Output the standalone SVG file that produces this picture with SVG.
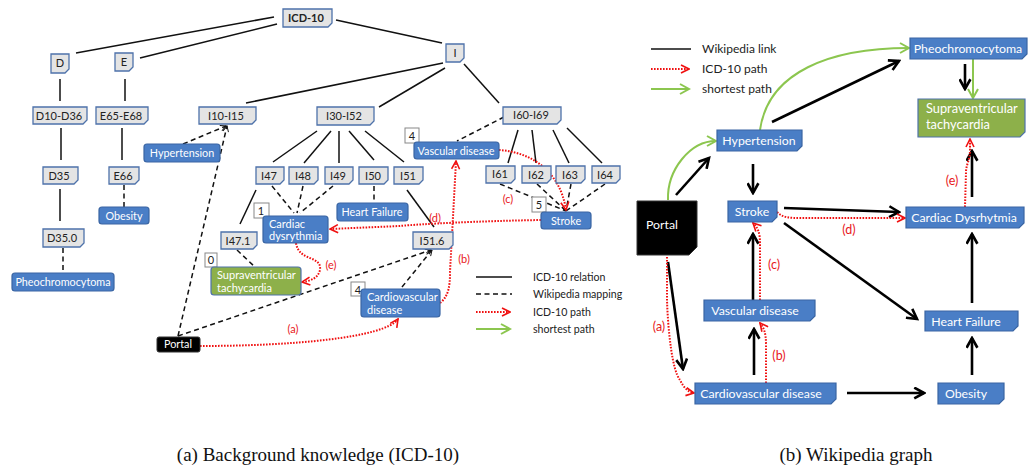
<svg xmlns="http://www.w3.org/2000/svg" width="1031" height="468" viewBox="0 0 1031 468">
<style>
.g{fill:#e4e4e4;stroke:#4e72aa;stroke-width:1.3}
.b{fill:#4a7ec6;stroke:#3a65a3;stroke-width:1.2}
.gr{fill:#8db04a;stroke:#4f72aa;stroke-width:1.2}
.bk{fill:#000;stroke:#333;stroke-width:1}
.nb{fill:#fff;stroke:#888;stroke-width:1}
.t{font-family:Lato,"Liberation Sans",sans-serif;font-size:11px;fill:#222;text-anchor:middle}
.tw{font-family:Lato,"Liberation Sans",sans-serif;font-size:10.8px;fill:#fff;text-anchor:middle}
.tl{font-family:Lato,"Liberation Sans",sans-serif;font-size:11px;fill:#fff}
.rt{font-family:Lato,"Liberation Sans",sans-serif;font-size:12.3px;fill:#fff;text-anchor:middle}
.rtl{font-family:Lato,"Liberation Sans",sans-serif;font-size:12.8px;fill:#fff}
.lg{font-family:Lato,"Liberation Sans",sans-serif;font-size:10.6px;fill:#222}
.lg2{font-family:Lato,"Liberation Sans",sans-serif;font-size:12px;fill:#222}
.lab{font-family:Lato,"Liberation Sans",sans-serif;font-size:11px;fill:#e8171b;text-anchor:middle}
.lab2{font-family:Lato,"Liberation Sans",sans-serif;font-size:12.5px;fill:#e8171b;text-anchor:middle}
.cap{font-family:"Liberation Serif",serif;font-size:19px;fill:#111;text-anchor:middle}
.s{stroke:#111;stroke-width:1.5;fill:none}
.d{stroke:#111;stroke-width:1.5;fill:none;stroke-dasharray:5 3.5}
.r{stroke:#f01010;stroke-width:2;fill:none;stroke-dasharray:1.6 1.4}
.w{stroke:#000;stroke-width:2.6;fill:none}
.gp{stroke:#8cc64f;stroke-width:2;fill:none}
</style>
<defs>
<marker id="ar" viewBox="0 0 10 10" refX="9" refY="5" markerWidth="10" markerHeight="10" markerUnits="userSpaceOnUse" orient="auto">
<path d="M1,1 L9,5 L1,9" fill="none" stroke="#f01010" stroke-width="1.6"/>
</marker>
<marker id="ak" viewBox="0 0 12 12" refX="10" refY="6" markerWidth="13" markerHeight="13" markerUnits="userSpaceOnUse" orient="auto">
<path d="M1,1 L10,6 L1,11" fill="none" stroke="#000" stroke-width="2.4"/>
</marker>
<marker id="ag" viewBox="0 0 12 12" refX="10" refY="6" markerWidth="12" markerHeight="12" markerUnits="userSpaceOnUse" orient="auto">
<path d="M1,1 L10,6 L1,11" fill="none" stroke="#8cc64f" stroke-width="2"/>
</marker>
<marker id="ad" viewBox="0 0 10 10" refX="9" refY="5" markerWidth="7" markerHeight="7" markerUnits="userSpaceOnUse" orient="auto">
<path d="M1,1 L9,5 L1,9" fill="none" stroke="#111" stroke-width="1.4"/>
</marker>
</defs>
<rect width="1031" height="468" fill="#fff"/>

<g id="connectors">
<!-- ICD-10 relations -->
<line class="s" x1="274" y1="17" x2="76" y2="53"/>
<line class="s" x1="277" y1="24" x2="140" y2="58"/>
<line class="s" x1="336" y1="20" x2="442" y2="43"/>
<line class="s" x1="60" y1="79" x2="60" y2="101"/>
<line class="s" x1="125" y1="79" x2="125" y2="101"/>
<line class="s" x1="61" y1="128" x2="61" y2="160"/>
<line class="s" x1="122" y1="128" x2="122" y2="160"/>
<line class="s" x1="443" y1="63" x2="246" y2="103"/>
<line class="s" x1="445" y1="68" x2="379" y2="107"/>
<line class="s" x1="464" y1="64" x2="499" y2="103"/>
<line class="s" x1="317" y1="131" x2="273" y2="162"/>
<line class="s" x1="331" y1="131" x2="304" y2="163"/>
<line class="s" x1="339" y1="131" x2="339" y2="163"/>
<line class="s" x1="349" y1="131" x2="374" y2="160"/>
<line class="s" x1="365" y1="131" x2="404" y2="162"/>
<line class="s" x1="518" y1="130" x2="508" y2="163"/>
<line class="s" x1="532" y1="130" x2="536" y2="163"/>
<line class="s" x1="553" y1="130" x2="569" y2="163"/>
<line class="s" x1="567" y1="128" x2="602" y2="163"/>
<line class="s" x1="60" y1="189" x2="60" y2="221"/>
<line class="s" x1="256" y1="190" x2="240" y2="224"/>
<line class="s" x1="407" y1="190" x2="434" y2="227"/>
<!-- Wikipedia mappings -->
<line class="d" x1="183" y1="144" x2="226" y2="126" marker-end="url(#ad)"/>
<line class="d" x1="178" y1="336" x2="227" y2="126" marker-end="url(#ad)"/>
<line class="d" x1="178" y1="336" x2="431" y2="250" marker-end="url(#ad)"/>
<line class="d" x1="402" y1="287" x2="432" y2="250" marker-end="url(#ad)"/>
<line class="d" x1="124" y1="185" x2="124" y2="207"/>
<line class="d" x1="63" y1="248" x2="63" y2="273"/>
<line class="d" x1="272" y1="186" x2="294" y2="213"/>
<line class="d" x1="303" y1="186" x2="297" y2="213"/>
<line class="d" x1="333" y1="186" x2="300" y2="213"/>
<line class="d" x1="374" y1="186" x2="374" y2="203"/>
<line class="d" x1="237" y1="250" x2="255" y2="267"/>
<line class="d" x1="504" y1="117" x2="457" y2="141"/>
<line class="d" x1="500" y1="184" x2="566" y2="211"/>
<line class="d" x1="537" y1="184" x2="566" y2="211"/>
<line class="d" x1="571" y1="184" x2="566" y2="211"/>
<line class="d" x1="605" y1="184" x2="566" y2="211"/>
<!-- ICD-10 paths (left) -->
<path class="r" d="M200,346 C290,346 385,338 398,319" marker-end="url(#ar)"/>
<path class="r" d="M440,303 C449,296 450,285 450,272 L456,161" marker-end="url(#ar)"/>
<path class="r" d="M499,150 C530,152 560,170 566,210" marker-end="url(#ar)"/>
<path class="r" d="M541,220 C480,221 420,224 400,226 L330,229" marker-end="url(#ar)"/>
<path class="r" d="M296,243 C299,262 322,255 320,270 C318,278 311,281 302,282" marker-end="url(#ar)"/>
<!-- legend left -->
<line class="s" x1="476" y1="277" x2="512" y2="277"/>
<line class="d" x1="476" y1="294" x2="512" y2="294"/>
<line class="r" x1="476" y1="312" x2="510" y2="312" marker-end="url(#ar)"/>
<line class="gp" x1="476" y1="329" x2="510" y2="329" marker-end="url(#ag)"/>

<!-- right: Wikipedia links -->
<line class="w" x1="676" y1="195" x2="709" y2="158" marker-end="url(#ak)"/>
<line class="w" x1="772" y1="122" x2="899" y2="61" marker-end="url(#ak)"/>
<line class="w" x1="753" y1="164" x2="753" y2="193" marker-end="url(#ak)"/>
<line class="w" x1="965" y1="64" x2="965" y2="89" marker-end="url(#ak)"/>
<line class="w" x1="784" y1="208" x2="899" y2="212" marker-end="url(#ak)"/>
<line class="w" x1="972" y1="197" x2="972" y2="151" marker-end="url(#ak)"/>
<line class="w" x1="784" y1="223" x2="917" y2="319" marker-end="url(#ak)"/>
<line class="w" x1="668" y1="262" x2="683" y2="369" marker-end="url(#ak)"/>
<line class="w" x1="754" y1="375" x2="754" y2="329" marker-end="url(#ak)"/>
<line class="w" x1="753" y1="300" x2="753" y2="234" marker-end="url(#ak)"/>
<line class="w" x1="847" y1="393" x2="924" y2="393" marker-end="url(#ak)"/>
<line class="w" x1="972" y1="375" x2="972" y2="338" marker-end="url(#ak)"/>
<line class="w" x1="972" y1="303" x2="972" y2="234" marker-end="url(#ak)"/>
<!-- right: shortest path -->
<path class="gp" d="M668,200 C667,170 690,141 716,141" marker-end="url(#ag)"/>
<path class="gp" d="M760,130 C768,72 830,48 909,48" marker-end="url(#ag)"/>
<path class="gp" d="M973,59 L973,98" marker-end="url(#ag)"/>
<!-- right: ICD-10 paths -->
<path class="r" d="M777,212 C783,218 790,218 800,218 L905,218" marker-end="url(#ar)"/>
<path class="r" d="M965,207 L966,172 C966,165 970,160 970,150 L970,139" marker-end="url(#ar)"/>
<path class="r" d="M667,257 L667,300 C668,330 672,370 680,380 C684,388 688,392 694,393" marker-end="url(#ar)"/>
<path class="r" d="M766,383 L766,345 C766,333 764,328 760,323" marker-end="url(#ar)"/>
<path class="r" d="M760,300 L760,245 C760,232 758,228 753,223" marker-end="url(#ar)"/>
<!-- legend right -->
<line class="s" x1="651" y1="49" x2="691" y2="49"/>
<line class="r" x1="651" y1="69" x2="689" y2="69" marker-end="url(#ar)"/>
<line class="gp" x1="651" y1="89" x2="689" y2="89" marker-end="url(#ag)"/>
</g>

<!-- Left panel gray nodes -->
<g id="n-icd10"><path class="g" d="M283,9 h49 v14 l-4,4 h-45 z"/><text class="t" x="306" y="22" font-weight="bold">ICD-10</text></g>
<g id="n-D"><path class="g" d="M51,54 h18 v15 l-4,4 h-14 z"/><text class="t" x="60" y="67">D</text></g>
<g id="n-E"><path class="g" d="M115,53 h18 v14 l-4,4 h-14 z"/><text class="t" x="124" y="66">E</text></g>
<g id="n-I"><path class="g" d="M446,44 h18 v14 l-4,4 h-14 z"/><text class="t" x="455" y="57">I</text></g>
<g id="n-D10-D36"><path class="g" d="M33,107 h54 v13 l-4,4 h-50 z"/><text class="t" x="59" y="120">D10-D36</text></g>
<g id="n-E65-E68"><path class="g" d="M96,107 h52 v13 l-4,4 h-48 z"/><text class="t" x="121" y="120">E65-E68</text></g>
<g id="n-I10-I15"><path class="g" d="M199,107 h57 v13 l-4,4 h-53 z"/><text class="t" x="226" y="120">I10-I15</text></g>
<g id="n-I30-I52"><path class="g" d="M317,107 h57 v14 l-4,4 h-53 z"/><text class="t" x="344" y="120">I30-I52</text></g>
<g id="n-I60-I69"><path class="g" d="M503,107 h58 v13 l-4,4 h-54 z"/><text class="t" x="531" y="119">I60-I69</text></g>
<g id="n-D35"><path class="g" d="M43,167 h35 v13 l-4,4 h-31 z"/><text class="t" x="59" y="180">D35</text></g>
<g id="n-E66"><path class="g" d="M109,167 h30 v13 l-4,4 h-26 z"/><text class="t" x="123" y="180">E66</text></g>
<g id="n-I47"><path class="g" d="M256,167 h28 v13 l-4,4 h-24 z"/><text class="t" x="269" y="180">I47</text></g>
<g id="n-I48"><path class="g" d="M289,167 h29 v13 l-4,4 h-25 z"/><text class="t" x="303" y="180">I48</text></g>
<g id="n-I49"><path class="g" d="M325,167 h28 v13 l-4,4 h-24 z"/><text class="t" x="338" y="180">I49</text></g>
<g id="n-I50"><path class="g" d="M359,167 h29 v13 l-4,4 h-25 z"/><text class="t" x="373" y="180">I50</text></g>
<g id="n-I51"><path class="g" d="M394,167 h29 v13 l-4,4 h-25 z"/><text class="t" x="408" y="180">I51</text></g>
<g id="n-I61"><path class="g" d="M486,166 h29 v13 l-4,4 h-25 z"/><text class="t" x="500" y="178">I61</text></g>
<g id="n-I62"><path class="g" d="M522,166 h29 v13 l-4,4 h-25 z"/><text class="t" x="536" y="179">I62</text></g>
<g id="n-I63"><path class="g" d="M556,166 h29 v13 l-4,4 h-25 z"/><text class="t" x="570" y="179">I63</text></g>
<g id="n-I64"><path class="g" d="M592,166 h28 v13 l-4,4 h-24 z"/><text class="t" x="605" y="179">I64</text></g>
<g id="n-D35.0"><path class="g" d="M43,229 h41 v14 l-4,4 h-37 z"/><text class="t" x="62" y="242">D35.0</text></g>
<g id="n-I47.1"><path class="g" d="M221,232 h36 v13 l-4,4 h-32 z"/><text class="t" x="238" y="245">I47.1</text></g>
<g id="n-I51.6"><path class="g" d="M413,232 h40 v13 l-4,4 h-36 z"/><text class="t" x="432" y="245">I51.6</text></g>

<!-- Left panel concept nodes -->
<g id="n-hypertension-l"><rect class="b" x="144" y="144" width="76" height="18" rx="3"/><text class="tw" x="182" y="157">Hypertension</text></g>
<g id="n-obesity-l"><rect class="b" x="99" y="207" width="50" height="17" rx="3"/><text class="tw" x="124" y="220">Obesity</text></g>
<g id="n-pheo-l"><rect class="b" x="12" y="273" width="102" height="18" rx="3"/><text class="tw" x="63" y="286">Pheochromocytoma</text></g>
<g id="n-heartfailure-l"><rect class="b" x="337" y="203" width="71" height="18" rx="3"/><text class="tw" x="372" y="216">Heart Failure</text></g>
<g id="n-vascular-l"><rect class="nb" x="405" y="128" width="14" height="15"/><text class="t" x="412" y="140">4</text><rect class="b" x="414" y="142" width="85" height="17" rx="3"/><text class="tw" x="456" y="155">Vascular disease</text></g>
<g id="n-stroke-l"><rect class="nb" x="532" y="197" width="14" height="15"/><text class="t" x="539" y="209">5</text><rect class="b" x="541" y="212" width="50" height="17" rx="3"/><text class="tw" x="566" y="225">Stroke</text></g>
<g id="n-cardiac-l"><rect class="nb" x="254" y="203" width="15" height="15"/><text class="t" x="261" y="215">1</text><rect class="b" x="263" y="216" width="65" height="27" rx="3"/><text class="tl" x="269" y="228">Cardiac</text><text class="tl" x="269" y="240">dysrythmia</text></g>
<g id="n-supra-l"><rect class="nb" x="205" y="253" width="12" height="14"/><text class="t" x="211" y="264">0</text><rect class="gr" x="211" y="267" width="90" height="28" rx="3"/><text class="tl" x="217" y="279">Supraventricular</text><text class="tl" x="217" y="292">tachycardia</text></g>
<g id="n-cvd-l"><rect class="nb" x="351" y="282" width="14" height="14"/><text class="t" x="358" y="294">4</text><rect class="b" x="361" y="289" width="79" height="28" rx="3"/><text class="tl" x="367" y="301">Cardiovascular</text><text class="tl" x="367" y="314">disease</text></g>
<g id="n-portal-l"><rect class="bk" x="157" y="337" width="43" height="15" rx="2"/><text class="tw" x="178" y="348">Portal</text></g>

<!-- Left labels and legend text -->
<g id="labels-left">
<text class="lab" x="293" y="333">(a)</text>
<text class="lab" x="464" y="263">(b)</text>
<text class="lab" x="508" y="203">(c)</text>
<text class="lab" x="435" y="222">(d)</text>
<text class="lab" x="331" y="269">(e)</text>
<text class="lg" x="533" y="281">ICD-10 relation</text>
<text class="lg" x="533" y="298">Wikipedia mapping</text>
<text class="lg" x="533" y="316">ICD-10 path</text>
<text class="lg" x="533" y="333">shortest path</text>
</g>

<!-- Right panel nodes -->
<g id="n-pheo-r"><path class="b" d="M910,38 h117 v16 l-5,5 h-112 z"/><text class="rt" x="968" y="53">Pheochromocytoma</text></g>
<g id="n-supra-r"><path class="gr" d="M918,99 h107 v33 l-5,5 h-102 z"/><text class="rtl" x="926" y="113">Supraventricular</text><text class="rtl" x="926" y="129">tachycardia</text></g>
<g id="n-hyper-r"><path class="b" d="M717,130 h85 v16 l-5,5 h-80 z"/><text class="rt" x="759" y="145">Hypertension</text></g>
<g id="n-portal-r"><path class="bk" d="M637,201 h60 v46 l-8,8 h-52 z"/><text class="rt" x="662" y="229">Portal</text></g>
<g id="n-stroke-r"><path class="b" d="M728,201 h49 v16 l-5,5 h-44 z"/><text class="rt" x="752" y="216">Stroke</text></g>
<g id="n-cardiac-r"><path class="b" d="M906,207 h118 v16 l-5,5 h-113 z"/><text class="rt" x="964" y="222">Cardiac Dysrhytmia</text></g>
<g id="n-vascular-r"><path class="b" d="M704,300 h111 v16 l-5,5 h-106 z"/><text class="rt" x="755" y="315">Vascular disease</text></g>
<g id="n-heartfailure-r"><path class="b" d="M925,311 h93 v15 l-5,5 h-88 z"/><text class="rt" x="966" y="326">Heart Failure</text></g>
<g id="n-cvd-r"><path class="b" d="M695,383 h141 v16 l-5,5 h-136 z"/><text class="rt" x="761" y="398">Cardiovascular disease</text></g>
<g id="n-obesity-r"><path class="b" d="M938,383 h66 v16 l-5,5 h-61 z"/><text class="rt" x="966" y="398">Obesity</text></g>

<g id="labels-right">
<text class="lab2" x="849" y="234">(d)</text>
<text class="lab2" x="952" y="185">(e)</text>
<text class="lab2" x="659" y="331">(a)</text>
<text class="lab2" x="779" y="360">(b)</text>
<text class="lab2" x="774" y="269">(c)</text>
<text class="lg2" x="702" y="53">Wikipedia link</text>
<text class="lg2" x="702" y="73">ICD-10 path</text>
<text class="lg2" x="702" y="93">shortest path</text>
</g>

<g id="captions">
<text class="cap" x="318" y="461">(a)  Background knowledge (ICD-10)</text>
<text class="cap" x="856" y="461">(b)  Wikipedia graph</text>
</g>
</svg>
